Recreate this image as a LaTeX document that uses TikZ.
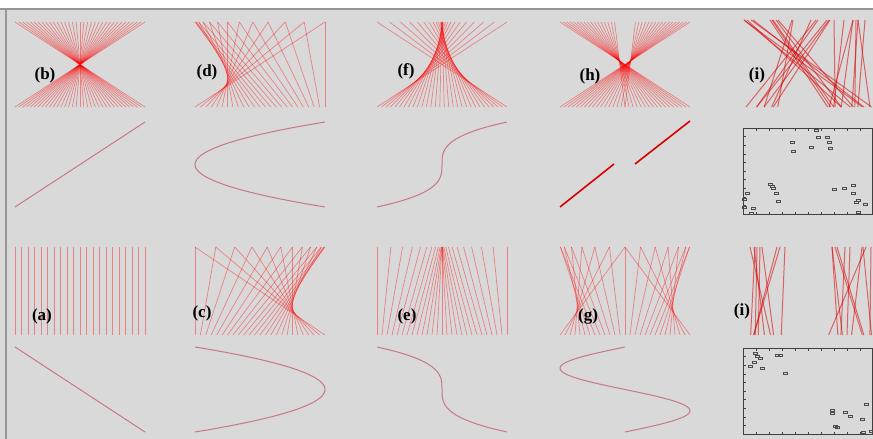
\documentclass[tikz,border=0pt]{standalone}
\usepackage{fontspec}
\setmainfont{Liberation Serif}
\usetikzlibrary{arrows.meta,positioning}
\definecolor{panelbg}{RGB}{217,217,217}
\definecolor{framegray}{RGB}{150,150,150}
\definecolor{curvered}{RGB}{200,120,130}

\begin{document}
\begin{tikzpicture}[x=1pt,y=-1pt,
  every node/.style={font=\bfseries\fontsize{17}{17}\selectfont,inner sep=0pt},
  pline/.style={red,opacity=.4,line width=.7pt},
  rline/.style={red!85!black,opacity=.55,line width=1pt},
  pcurve/.style={curvered,line width=1pt},
  ptmark/.style={draw=black!70,line width=.5pt},
  boxframe/.style={draw=black!75,line width=.6pt}]
\useasboundingbox (0,0) rectangle (873,439);
\fill[white] (0,0) rectangle (873,439);
\fill[panelbg] (0,9) rectangle (873,439);
\draw[framegray,line width=1.5pt] (0,9)--(873,9);
\draw[framegray,line width=1.5pt] (6,9)--(6,439);
% row 1: line sets
\foreach \i in {0,...,34}{\pgfmathsetmacro\t{\i/34}
  \draw[pline] ({15+130*\t},22)--({15+130*(1-\t)},107);}
\foreach \i in {0,...,24}{\pgfmathsetmacro\s{-1+2*\i/24}
  \draw[pline] ({195+130*(\s)*(\s)},22)--({195+65*(1-\s)},107);}
\foreach \i in {0,...,29}{\pgfmathsetmacro\u{\i/29}
  \draw[pline] ({377+130*(0.5+4*(\u-0.5)*(\u-0.5)*(\u-0.5))},22)--({377+130*(1-\u)},107);}
\foreach \i in {0,...,16}{\pgfmathsetmacro\t{\i/16}
  \draw[pline] ({560+130*.42*\t},22)--({560+130*(1-.5*\t)},107);
  \draw[pline] ({560+130*(.58+.42*\t)},22)--({560+130*(.5-.5*\t)},107);}
\foreach \px/\py in {816/130,818/137,827/137,829/142,830/148,792/142,793/151,811/147,
  770/184,772/186,773/188,776/193,778/201,747/193,744/199,744/207,753/208,751/213,
  834/189,844/188,853/185,853/193,858/200,856/202,865/204,858/212}
  \draw[rline] (\px,20)--({743+130*(\py-128)/86},107);
% row 2: curves
\draw[pcurve] (15,207)--(145,122);
\draw[pcurve] plot[domain=-1:1,samples=60,smooth] ({195+130*(\x)*(\x)},{207-85*(\x+1)/2});
\draw[pcurve] plot[domain=0:1,samples=60,smooth] ({377+130*(0.5+4*(\x-0.5)*(\x-0.5)*(\x-0.5))},{207-85*\x});
\draw[red!85!black,line width=1.6pt] (560,207)--(614,164);
\draw[red!85!black,line width=1.6pt] (635,164)--(690,121);
\draw[boxframe] (743,128) rectangle (872,214);
\foreach \k in {1,...,9}{
  \draw[boxframe] (743+13*\k,128)--++(0,2.5);
  \draw[boxframe] (743+13*\k,214)--++(0,-2.5);
  \draw[boxframe] (743,128+8.6*\k)--++(2.5,0);}
\foreach \px/\py in {816/130,818/137,827/137,829/142,830/148,792/142,793/151,811/147,
  770/184,772/186,773/188,776/193,778/201,747/193,744/199,744/207,753/208,751/213,
  834/189,844/188,853/185,853/193,858/200,856/202,865/204,858/212}
  \draw[ptmark] (\px-2,\py-1.2) rectangle (\px+2,\py+1.2);
% row 3: line sets
\foreach \i in {0,...,20}
  \draw[pline] ({15+6.5*\i},247)--({15+6.5*\i},335);
\foreach \i in {0,...,24}{\pgfmathsetmacro\s{-1+2*\i/24}
  \draw[pline] ({195+130*(1-(\s)*(\s))},247)--({195+65*(1-\s)},335);}
\foreach \i in {0,...,26}{\pgfmathsetmacro\u{\i/26}
  \draw[pline] ({377+130*(0.5-4*(\u-0.5)*(\u-0.5)*(\u-0.5))},247)--({377+130*(1-\u)},335);}
\foreach \i in {0,...,26}{\pgfmathsetmacro\u{\i/26}
  \draw[pline] ({560+130*(0.5+0.5*sin(360*\u))},247)--({560+130*(1-\u)},335);}
\foreach \px/\py in {755/353,757/356,760/358,754/362,750/366,762/368,777/355,780/355,
  785/373,832/410,832/413,845/412,850/416,862/419,866/404,835/426,837/427,863/432,871/431}
  \draw[rline] (\px,247)--({743+130*(\py-348)/85},335);
% row 4: curves
\draw[pcurve] (15,347)--(145,432);
\draw[pcurve] plot[domain=-1:1,samples=60,smooth] ({195+130*(1-(\x)*(\x))},{432-85*(\x+1)/2});
\draw[pcurve] plot[domain=0:1,samples=60,smooth] ({377+130*(0.5-4*(\x-0.5)*(\x-0.5)*(\x-0.5))},{432-85*\x});
\draw[pcurve] plot[domain=0:1,samples=80,smooth] ({560+130*(0.5+0.5*sin(360*\x))},{432-85*\x});
\draw[boxframe] (743,348) rectangle (872,434);
\foreach \k in {1,...,9}{
  \draw[boxframe] (743+13*\k,348)--++(0,2.5);
  \draw[boxframe] (743+13*\k,434)--++(0,-2.5);
  \draw[boxframe] (743,348+8.6*\k)--++(2.5,0);}
\foreach \px/\py in {755/353,757/356,760/358,754/362,750/366,762/368,777/355,780/355,
  785/373,832/410,832/413,845/412,850/416,862/419,866/404,835/426,837/427,863/432,871/431}
  \draw[ptmark] (\px-2,\py-1.2) rectangle (\px+2,\py+1.2);
% labels
\node (lb) at (45,75) {(b)};
\node (ld) at (207,72) {(d)};
\node (lf) at (406,71) {(f)};
\node (lh) at (590,76) {(h)};
\node (ltop) at (757,75) {(i)};
\node (la) at (42,316) {(a)};
\node (lc) at (202,313) {(c)};
\node (le) at (407,316) {(e)};
\node (lg) at (588,316) {(g)};
\node (lbot) at (742,311) {(i)};
\end{tikzpicture}
\end{document}
